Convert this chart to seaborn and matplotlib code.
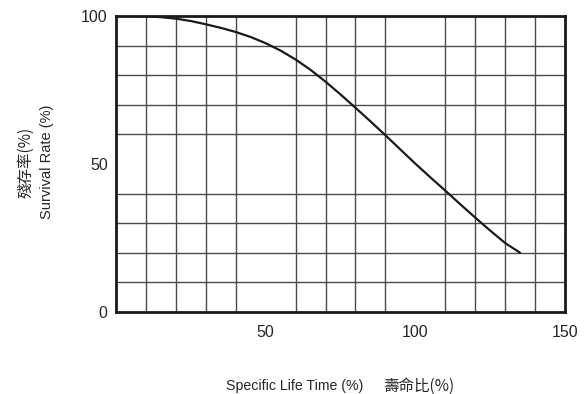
import matplotlib
matplotlib.use("Agg")
import matplotlib.pyplot as plt
import seaborn as sns
import numpy as np

# values
life_time = [0, 5, 10, 15, 20, 25, 30, 35, 40, 45, 50, 55, 60, 65, 70, 75, 80,
             85, 90, 95, 100, 105, 110, 115, 120, 125, 130, 135]
survival = [100, 100, 99.9, 99.6, 99.1, 98.3, 97.2, 96.0, 94.6, 92.9, 90.8, 88.3,
            85.3, 81.8, 77.8, 73.5, 69.0, 64.4, 59.7, 54.9, 50.1, 45.5, 41.0,
            36.4, 31.9, 27.5, 23.3, 20.0]
x_ticks = [50, 100, 150]
y_ticks = [0, 50, 100]

sns.set_style("white")
plt.rcParams['font.family'] = ['Liberation Sans', 'Noto Sans CJK TC', 'DejaVu Sans']
cjk = ['Noto Sans CJK TC', 'Liberation Sans']

fig = plt.figure(figsize=(5.87, 3.94), dpi=100)
ax = fig.add_axes([0.1976, 0.2081, 0.765, 0.7513])

sns.lineplot(x=life_time, y=survival, ax=ax, color='#1a1a1a', linewidth=1.6)

ax.set_xlim(0, 150)
ax.set_ylim(0, 100)
ax.set_xticks(np.arange(0, 151, 10), minor=True)
ax.set_yticks(np.arange(0, 101, 10), minor=True)
ax.grid(True, which='minor', color='#4a4a4a', linewidth=1.0)
ax.set_axisbelow(True)
ax.set_xticks(x_ticks)
ax.set_yticks(y_ticks)
ax.tick_params(which='both', length=0, labelsize=11.5)
ax.tick_params(axis='x', pad=9)
ax.tick_params(axis='y', pad=6)

for s in ax.spines.values():
    s.set_visible(True)
    s.set_color('#1a1a1a')
    s.set_linewidth(2.0)

# axis titles, English and Chinese parts placed separately
fig.text(363 / 587, 1 - 386 / 394, "Specific Life Time (%)", ha='right', va='center', fontsize=10.2)
fig.text(383 / 587, 1 - 386 / 394, "壽命比(%)", ha='left', va='center', fontsize=11.2, family=cjk)
fig.text(25.5 / 587, 1 - 162 / 394, "殘存率(%)", rotation=90, ha='center', va='center',
         fontsize=11.2, family=cjk)
fig.text(47 / 587, 1 - 162 / 394, "Survival Rate (%)", rotation=90, ha='center', va='center',
         fontsize=10.5)

fig.savefig("out.png", dpi=100)
